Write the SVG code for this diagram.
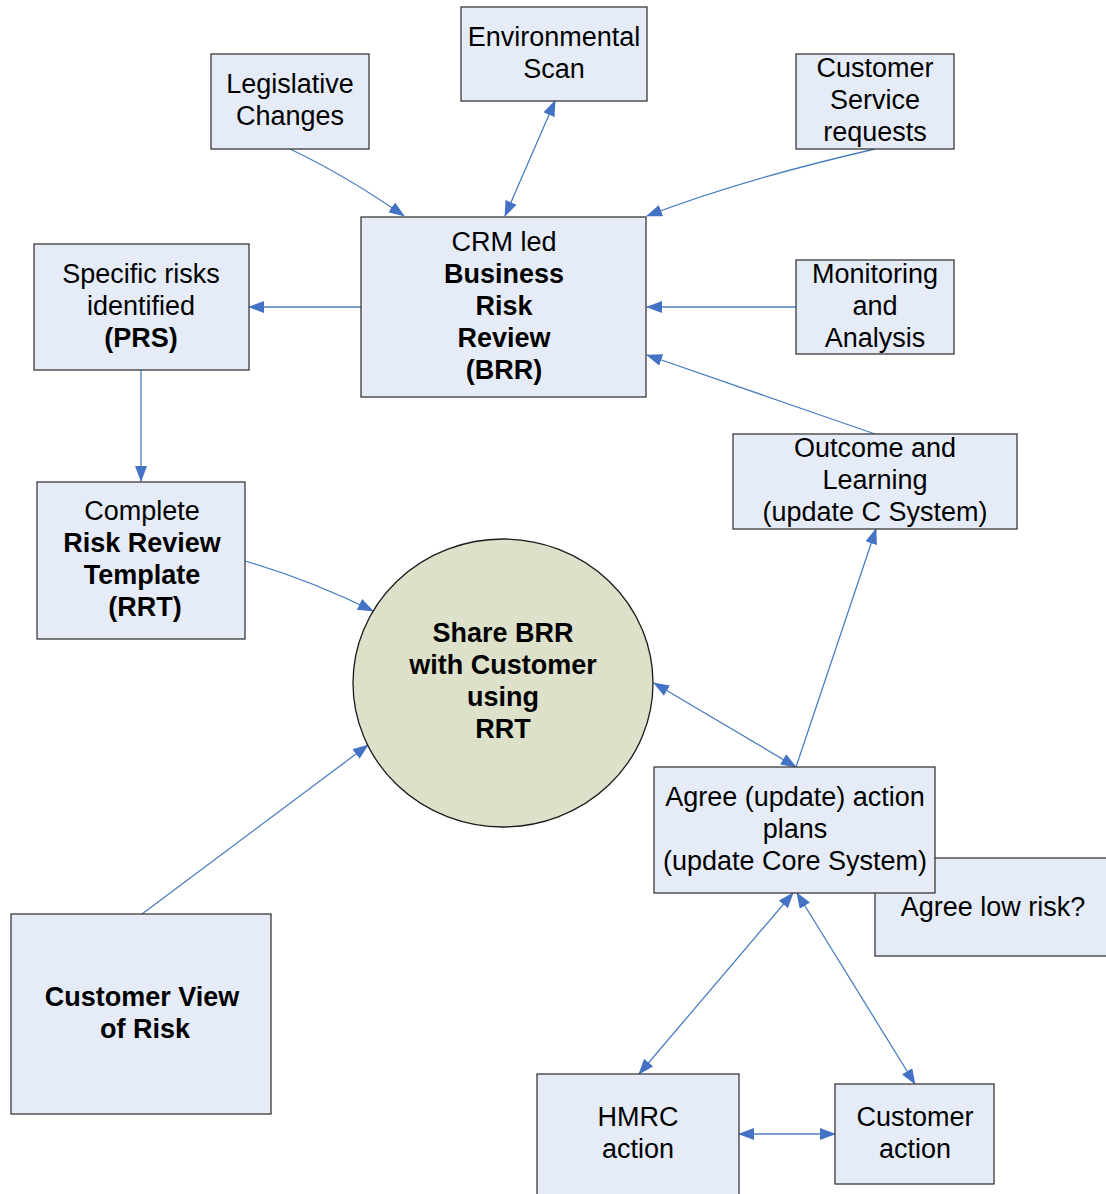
<svg xmlns="http://www.w3.org/2000/svg" width="1106" height="1194" viewBox="0 0 1106 1194">
<style>
.box{fill:#E6ECF7;stroke:#3a3a3a;stroke-width:1.3}
.circ{fill:#DDE1CA;stroke:#1a1a1a;stroke-width:1.3}
text{font-family:"Liberation Sans",Arial,sans-serif;font-size:27px;fill:#000;text-anchor:middle}
.b{font-weight:bold}
.c{fill:none;stroke:#4A7EBF;stroke-width:1.3}
</style>
<defs>
<marker id="ae" markerUnits="userSpaceOnUse" markerWidth="16" markerHeight="12" refX="15" refY="6" orient="auto"><path d="M0,0 L16,6 L0,12 Z" fill="#4472C4"/></marker>
<marker id="as" markerUnits="userSpaceOnUse" markerWidth="16" markerHeight="12" refX="1" refY="6" orient="auto"><path d="M16,0 L0,6 L16,12 Z" fill="#4472C4"/></marker>
</defs>
<rect x="0" y="0" width="1106" height="1194" fill="#fff"/>

<g id="connectors">
<path class="c" d="M290,149 Q345,175 404,216" marker-end="url(#ae)"/>
<path class="c" d="M505,216 L555,101" marker-start="url(#as)" marker-end="url(#ae)"/>
<path class="c" d="M875,149 Q740,180 647,216" marker-end="url(#ae)"/>
<path class="c" d="M361,307 L249,307" marker-end="url(#ae)"/>
<path class="c" d="M796,307 L647,307" marker-end="url(#ae)"/>
<path class="c" d="M875,434 L647,355" marker-end="url(#ae)"/>
<path class="c" d="M141,370 L141,481" marker-end="url(#ae)"/>
<path class="c" d="M245,561 Q310,580 373,611" marker-end="url(#ae)"/>
<path class="c" d="M142,914 L368,745" marker-end="url(#ae)"/>
<path class="c" d="M654,683 L796,767" marker-start="url(#as)" marker-end="url(#ae)"/>
<path class="c" d="M796,767 L876,529" marker-end="url(#ae)"/>
<path class="c" d="M793,893 L639,1074" marker-start="url(#as)" marker-end="url(#ae)"/>
<path class="c" d="M797,893 L915,1084" marker-start="url(#as)" marker-end="url(#ae)"/>
<path class="c" d="M739,1134 L835,1134" marker-start="url(#as)" marker-end="url(#ae)"/>
</g>

<g id="legislative"><rect class="box" x="211" y="54" width="158" height="95"/>
<text x="290" y="93">Legislative</text><text x="290" y="125">Changes</text></g>

<g id="environmental"><rect class="box" x="461" y="7" width="186" height="94"/>
<text x="554" y="46">Environmental</text><text x="554" y="78">Scan</text></g>

<g id="customer-service"><rect class="box" x="796" y="54" width="158" height="95"/>
<text x="875" y="77">Customer</text><text x="875" y="109">Service</text><text x="875" y="141">requests</text></g>

<g id="brr"><rect class="box" x="361" y="217" width="285" height="180"/>
<text x="504" y="251">CRM led</text><text class="b" x="504" y="283">Business</text><text class="b" x="504" y="315">Risk</text><text class="b" x="504" y="347">Review</text><text class="b" x="504" y="379">(BRR)</text></g>

<g id="specific-risks"><rect class="box" x="34" y="244" width="215" height="126"/>
<text x="141" y="283">Specific risks</text><text x="141" y="315">identified</text><text class="b" x="141" y="347">(PRS)</text></g>

<g id="monitoring"><rect class="box" x="796" y="260" width="158" height="94"/>
<text x="875" y="283">Monitoring</text><text x="875" y="315">and</text><text x="875" y="347">Analysis</text></g>

<g id="outcome"><rect class="box" x="733" y="434" width="284" height="95"/>
<text x="875" y="457">Outcome and</text><text x="875" y="489">Learning</text><text x="875" y="521">(update C System)</text></g>

<g id="complete-rrt"><rect class="box" x="37" y="482" width="208" height="157"/>
<text x="142" y="520">Complete</text><text class="b" x="142" y="552">Risk Review</text><text class="b" x="142" y="584">Template</text><text class="b" x="145" y="616">(RRT)</text></g>

<g id="share-brr"><ellipse class="circ" cx="503" cy="683" rx="150" ry="144"/>
<text class="b" x="503" y="642">Share BRR</text><text class="b" x="503" y="674">with Customer</text><text class="b" x="503" y="706">using</text><text class="b" x="503" y="738">RRT</text></g>

<g id="agree-low-risk"><rect class="box" x="875" y="858" width="240" height="98"/>
<text x="993" y="916">Agree low risk?</text></g>

<g id="agree-action"><rect class="box" x="654" y="767" width="281" height="126"/>
<text x="795" y="806">Agree (update) action</text><text x="795" y="838">plans</text><text x="795" y="870">(update Core System)</text></g>

<g id="customer-view"><rect class="box" x="11" y="914" width="260" height="200"/>
<text class="b" x="142" y="1006">Customer View</text><text class="b" x="145" y="1038">of Risk</text></g>

<g id="hmrc-action"><rect class="box" x="537" y="1074" width="202" height="130"/>
<text x="638" y="1126">HMRC</text><text x="638" y="1158">action</text></g>

<g id="customer-action"><rect class="box" x="835" y="1084" width="159" height="100"/>
<text x="915" y="1126">Customer</text><text x="915" y="1158">action</text></g>
</svg>
